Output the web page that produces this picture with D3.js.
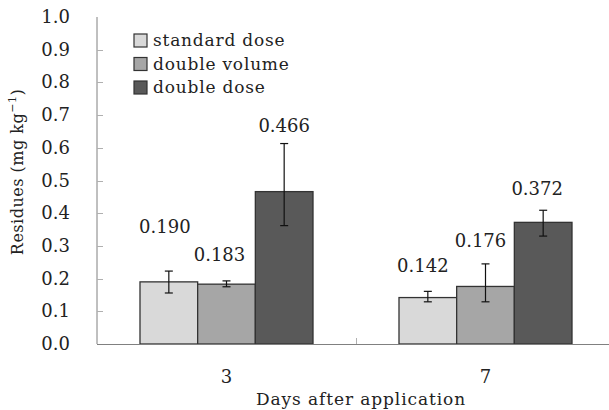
<!DOCTYPE html>
<html>
<head>
<meta charset="utf-8">
<script src="https://cdn.jsdelivr.net/npm/d3@7"></script>
<style>
  body { margin: 0; background: #fff; }
  text { font-family: "DejaVu Serif", serif; fill: #222; }
</style>
</head>
<body>
<div id="chart"></div>
<script>
// data
const days = ["3", "7"];
const series = ["standard dose", "double volume", "double dose"];
const values = [
  [0.190, 0.183, 0.466],
  [0.142, 0.176, 0.372]
];
const errHigh = [
  [0.223, 0.193, 0.613],
  [0.161, 0.245, 0.409]
];
const errLow = [
  [0.156, 0.175, 0.362],
  [0.129, 0.129, 0.330]
];
const labels = [
  ["0.190", "0.183", "0.466"],
  ["0.142", "0.176", "0.372"]
];
const yTicks = [0, 0.1, 0.2, 0.3, 0.4, 0.5, 0.6, 0.7, 0.8, 0.9, 1.0];

const width = 609, height = 410;
const colors = ["#d9d9d9", "#a6a6a6", "#595959"];
// label heights (value units) and horizontal nudges as placed in the figure
const labelAt = [[0.340, 0.255, 0.649], [0.219, 0.298, 0.456]];
const labelDx = [[-4, -7, 0], [-5, -5, -6]];

const svg = d3.select("#chart").append("svg")
  .attr("width", width)
  .attr("height", height);

const y = d3.scaleLinear().domain([0, 1]).range([344, 17]);
const x0 = d3.scaleBand().domain(days).range([97, 615]);
const groupW = x0.bandwidth() * 0.668;
const x1 = d3.scaleBand().domain(d3.range(series.length))
  .range([-groupW / 2, groupW / 2]);

// y axis line + inward ticks
svg.append("line")
  .attr("x1", 97).attr("x2", 97)
  .attr("y1", y(1)).attr("y2", y(0))
  .attr("stroke", "#808080").attr("stroke-width", 1);
svg.selectAll(".ytick")
  .data(yTicks.slice(1, -1))
  .enter().append("line")
    .attr("x1", 97).attr("x2", 103)
    .attr("y1", d => Math.round(y(d)) + 0.5)
    .attr("y2", d => Math.round(y(d)) + 0.5)
    .attr("stroke", "#b0b0b0");
svg.selectAll(".ylab")
  .data(yTicks)
  .enter().append("text")
    .attr("x", 70)
    .attr("y", d => y(d) + 6)
    .attr("text-anchor", "end")
    .attr("font-size", "18px")
    .text(d => d.toFixed(1));

// bars
const groups = svg.selectAll(".grp")
  .data(days)
  .enter().append("g")
    .attr("transform", d => `translate(${x0(d) + x0.bandwidth() / 2},0)`);

groups.selectAll("rect")
  .data((d, i) => values[i].map((v, j) => ({v, j})))
  .enter().append("rect")
    .attr("x", d => x1(d.j))
    .attr("width", x1.bandwidth())
    .attr("y", d => y(d.v))
    .attr("height", d => y(0) - y(d.v))
    .attr("fill", d => colors[d.j])
    .attr("stroke", "#333")
    .attr("stroke-width", 1.3);

// x axis line and middle tick
svg.append("line")
  .attr("x1", 97).attr("x2", width)
  .attr("y1", y(0) + 0.5).attr("y2", y(0) + 0.5)
  .attr("stroke", "#808080");
svg.append("line")
  .attr("x1", x0("7") + 0.5).attr("x2", x0("7") + 0.5)
  .attr("y1", y(0)).attr("y2", y(0) - 6)
  .attr("stroke", "#b0b0b0");

// error bars
groups.each(function(d, i) {
  const g = d3.select(this);
  series.forEach((s, j) => {
    const cx = x1(j) + x1.bandwidth() / 2;
    const eb = g.append("g").attr("stroke", "#111").attr("stroke-width", 1.2);
    eb.append("line").attr("x1", cx).attr("x2", cx)
      .attr("y1", y(errLow[i][j])).attr("y2", y(errHigh[i][j]));
    [errLow[i][j], errHigh[i][j]].forEach(e => {
      eb.append("line").attr("x1", cx - 4).attr("x2", cx + 4)
        .attr("y1", y(e)).attr("y2", y(e));
    });
    g.append("text")
      .attr("x", cx + labelDx[i][j])
      .attr("y", y(labelAt[i][j]))
      .attr("text-anchor", "middle")
      .attr("font-size", "18px")
      .text(labels[i][j]);
  });
});

// x labels
svg.selectAll(".xlab")
  .data(days)
  .enter().append("text")
    .attr("x", d => x0(d) + x0.bandwidth() / 2)
    .attr("y", 383)
    .attr("text-anchor", "middle")
    .attr("font-size", "18px")
    .text(d => d);

svg.append("text")
  .attr("x", 361).attr("y", 405)
  .attr("text-anchor", "middle")
  .attr("font-size", "17px")
  .attr("letter-spacing", "0.9px")
  .text("Days after application");

// y title
const yt = svg.append("text")
  .attr("transform", "translate(23,172) rotate(-90)")
  .attr("text-anchor", "middle")
  .attr("font-size", "16px")
  .attr("letter-spacing", "0.5px");
yt.append("tspan").text("Residues (mg kg");
yt.append("tspan").attr("font-size", "11px").attr("dy", -7).text("−1");
yt.append("tspan").attr("dy", 7).text(")");

// legend
const leg = svg.selectAll(".leg")
  .data(series)
  .enter().append("g")
    .attr("transform", (d, i) => `translate(134,${34 + i * 23.5})`);
leg.append("rect")
  .attr("width", 13).attr("height", 13)
  .attr("fill", (d, i) => colors[i])
  .attr("stroke", "#333").attr("stroke-width", 1.2);
leg.append("text")
  .attr("x", 19).attr("y", 12)
  .attr("font-size", "17px")
  .attr("letter-spacing", "0.8px")
  .text(d => d);
</script>
</body>
</html>
